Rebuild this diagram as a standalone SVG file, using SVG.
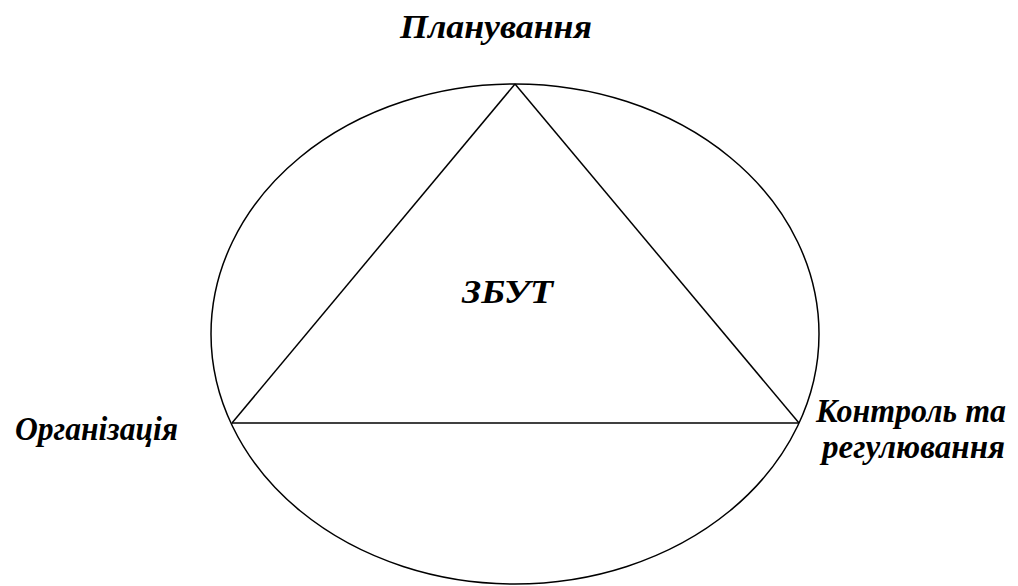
<svg xmlns="http://www.w3.org/2000/svg" width="1018" height="586" viewBox="0 0 1018 586">
<style>
.lbl{font-family:"Liberation Serif","Times New Roman",serif;font-weight:bold;font-style:italic;font-size:34px;fill:#000}
.ln{fill:none;stroke:#000;stroke-width:1.5}
</style>
<rect width="1018" height="586" fill="#fff"/>
<g id="connectors">
<ellipse class="ln" cx="515" cy="334" rx="304" ry="250"/>
<line class="ln" x1="515" y1="84" x2="232" y2="423"/>
<line class="ln" x1="515" y1="84" x2="799" y2="423"/>
<line class="ln" x1="232" y1="423" x2="799" y2="423" stroke-width="2.5"/>
</g>
<g id="planning"><text class="lbl" x="400" y="38" textLength="192" lengthAdjust="spacingAndGlyphs">Планування</text></g>
<g id="organization"><text class="lbl" x="15" y="440" textLength="163" lengthAdjust="spacingAndGlyphs">Організація</text></g>
<g id="control"><text class="lbl" x="816" y="422" font-size="32" textLength="190" lengthAdjust="spacingAndGlyphs">Контроль та</text>
<text class="lbl" x="822" y="458" textLength="183" lengthAdjust="spacingAndGlyphs">регулювання</text></g>
<g id="sales"><text class="lbl" x="462" y="303" textLength="91" lengthAdjust="spacingAndGlyphs">ЗБУТ</text></g>
</svg>
